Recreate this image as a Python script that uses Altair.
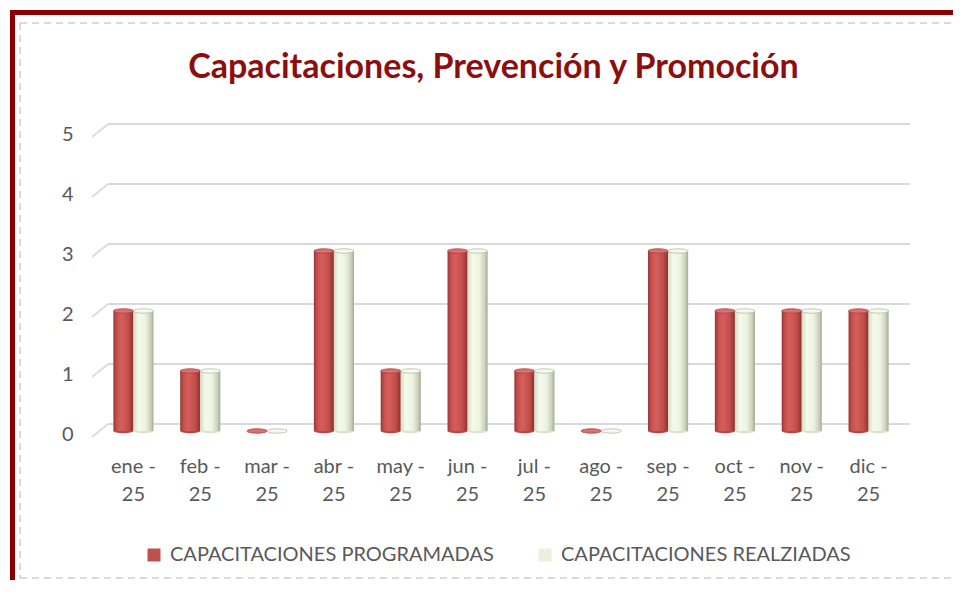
import altair as alt
import pandas as pd

months = ["ene", "feb", "mar", "abr", "may", "jun", "jul", "ago", "sep", "oct", "nov", "dic"]
year = "25"
programadas = [2, 1, 0, 3, 1, 3, 1, 0, 3, 2, 2, 2]
realizadas = [2, 1, 0, 3, 1, 3, 1, 0, 3, 2, 2, 2]
series = ["CAPACITACIONES PROGRAMADAS", "CAPACITACIONES REALZIADAS"]
y_ticks = [0, 1, 2, 3, 4, 5]
title_text = "Capacitaciones, Prevención y Promoción"

df = pd.DataFrame({
    "mes": months * 2,
    "serie": [series[0]] * 12 + [series[1]] * 12,
    "valor": programadas + realizadas,
})
grid_df = pd.DataFrame({"valor": y_ticks})
one = pd.DataFrame({"a": [0]})

FONT = "Lato"
GRAY = "#595959"

x_enc = alt.X(
    "mes:N", sort=months,
    scale=alt.Scale(domain=months, paddingInner=0.4, paddingOuter=0.2),
    axis=alt.Axis(title=None, labelExpr=f"[datum.label + ' -', '{year}']",
                  domain=False, ticks=False, labelAngle=0, labelFont=FONT,
                  labelFontSize=20, labelColor=GRAY, labelPadding=25,
                  labelLineHeight=28),
)
xo_enc = alt.XOffset("serie:N", sort=series,
                     scale=alt.Scale(domain=series, paddingInner=0, paddingOuter=0))
y_enc = alt.Y(
    "valor:Q", scale=alt.Scale(domain=[0, 5], nice=False, zero=True),
    axis=alt.Axis(title=None, values=y_ticks, format="d", grid=False, domain=False, ticks=False,
                  labelFont=FONT, labelFontSize=20, labelColor=GRAY,
                  labelPadding=27, labelOffset=3),
)

red_grad = alt.Gradient(
    gradient="linear", x1=0, x2=1, y1=0, y2=0,
    stops=[alt.GradientStop(offset=0, color="#9A3633"),
           alt.GradientStop(offset=0.18, color="#C6524F"),
           alt.GradientStop(offset=0.4, color="#D65F5C"),
           alt.GradientStop(offset=0.75, color="#C14E4B"),
           alt.GradientStop(offset=1, color="#8F302D")],
)
cream_grad = alt.Gradient(
    gradient="linear", x1=0, x2=1, y1=0, y2=0,
    stops=[alt.GradientStop(offset=0, color="#D5DAC6"),
           alt.GradientStop(offset=0.25, color="#F6FAEC"),
           alt.GradientStop(offset=0.6, color="#EDF2E0"),
           alt.GradientStop(offset=0.85, color="#CDD2BE"),
           alt.GradientStop(offset=1, color="#A4A996")],
)

ellipse = "M -1 0 A 1 0.22 0 1 1 1 0 A 1 0.22 0 1 1 -1 0 Z"
half_ellipse = "M -1 0 A 1 0.22 0 0 0 1 0 Z"

# decorative frame
border_top = alt.Chart(one).mark_rule(color="#8A0000", strokeWidth=5).encode(
    x=alt.value(-90), x2=alt.value(860), y=alt.value(-118.5))
border_left = alt.Chart(one).mark_rule(color="#8A0000", strokeWidth=5).encode(
    x=alt.value(-87.5), y=alt.value(-121), y2=alt.value(460))
dash_top = alt.Chart(one).mark_rule(color="#D0D0D0", strokeWidth=1.5, strokeDash=[7, 5]).encode(
    x=alt.value(-80), x2=alt.value(860), y=alt.value(-108))
dash_left = alt.Chart(one).mark_rule(color="#D0D0D0", strokeWidth=1.5, strokeDash=[7, 5]).encode(
    x=alt.value(-80), y=alt.value(-108), y2=alt.value(447))
dash_bottom = alt.Chart(one).mark_rule(color="#D0D0D0", strokeWidth=1.5, strokeDash=[7, 5]).encode(
    x=alt.value(-80), x2=alt.value(860), y=alt.value(447))

grid_back = alt.Chart(grid_df).mark_rule(color="#D9D9D9", strokeWidth=2, yOffset=-7, y2Offset=-7).encode(
    y=y_enc, y2="valor", x=alt.value(8), x2=alt.value(810))
grid_side = alt.Chart(grid_df).mark_rule(color="#DDDDDD", strokeWidth=2, yOffset=6, y2Offset=-7).encode(
    y=y_enc, y2="valor", x=alt.value(-8), x2=alt.value(8))

base_red = alt.Chart(df).transform_filter(alt.datum.serie == series[0]).transform_filter(alt.datum.valor > 0)
base_cream = alt.Chart(df).transform_filter(alt.datum.serie == series[1]).transform_filter(alt.datum.valor > 0)

bottom_red = base_red.mark_point(shape=half_ellipse, size=400, filled=True, fill="#B54744",
                                 strokeWidth=0, opacity=1).encode(
    x=x_enc, xOffset=xo_enc, y=alt.datum(0))
bottom_cream = base_cream.mark_point(shape=half_ellipse, size=400, filled=True, fill="#DDE2CE",
                                     strokeWidth=0, opacity=1).encode(
    x=x_enc, xOffset=xo_enc, y=alt.datum(0))

bars_red = base_red.mark_bar(color=red_grad).encode(x=x_enc, xOffset=xo_enc, y=y_enc)
bars_cream = base_cream.mark_bar(color=cream_grad).encode(x=x_enc, xOffset=xo_enc, y=y_enc)

cap_red = alt.Chart(df).transform_filter(alt.datum.serie == series[0]).mark_point(
    shape=ellipse, size=400, filled=True, fill="#DA716E", stroke="#A8403D", strokeWidth=0.8, opacity=1
).encode(x=x_enc, xOffset=xo_enc, y=y_enc)
cap_cream = alt.Chart(df).transform_filter(alt.datum.serie == series[1]).mark_point(
    shape=ellipse, size=400, filled=True, fill="#F6F9EE", stroke="#B4BAA4", strokeWidth=0.8, opacity=1
).encode(x=x_enc, xOffset=xo_enc, y=y_enc)

legend_layer = alt.Chart(df).mark_point(filled=True, opacity=0).encode(
    x=x_enc, xOffset=xo_enc, y=y_enc,
    color=alt.Color("serie:N", sort=series,
                    scale=alt.Scale(domain=series, range=["#C0504D", "#EBF1DE"]),
                    legend=alt.Legend(title=None, orient="none", legendX=44, legendY=414,
                                      direction="horizontal", symbolType="square",
                                      symbolSize=169, symbolOpacity=1, symbolStrokeWidth=0,
                                      labelFont=FONT, labelFontSize=20, labelColor=GRAY,
                                      labelOffset=6, columnPadding=41, padding=0,
                                      labelLimit=400)),
)

title_layer = alt.Chart(one).mark_text(
    font=FONT, fontSize=34, fontWeight="bold", color="#8C0E0E", align="center", baseline="alphabetic"
).encode(x=alt.value(393.5), y=alt.value(-53), text=alt.value(title_text))

chart = alt.layer(
    border_top, border_left, dash_top, dash_left, dash_bottom,
    grid_back, grid_side, bottom_red, bottom_cream, bars_red, bars_cream,
    cap_red, cap_cream, legend_layer, title_layer,
).properties(
    width=802, height=300,
    autosize=alt.AutoSizeParams(type="none"),
    padding={"left": 92, "top": 123, "right": 51, "bottom": 149},
    background="white",
).configure_view(stroke=None)

chart.save("out.html", embed_options={"renderer": "svg", "actions": False})
